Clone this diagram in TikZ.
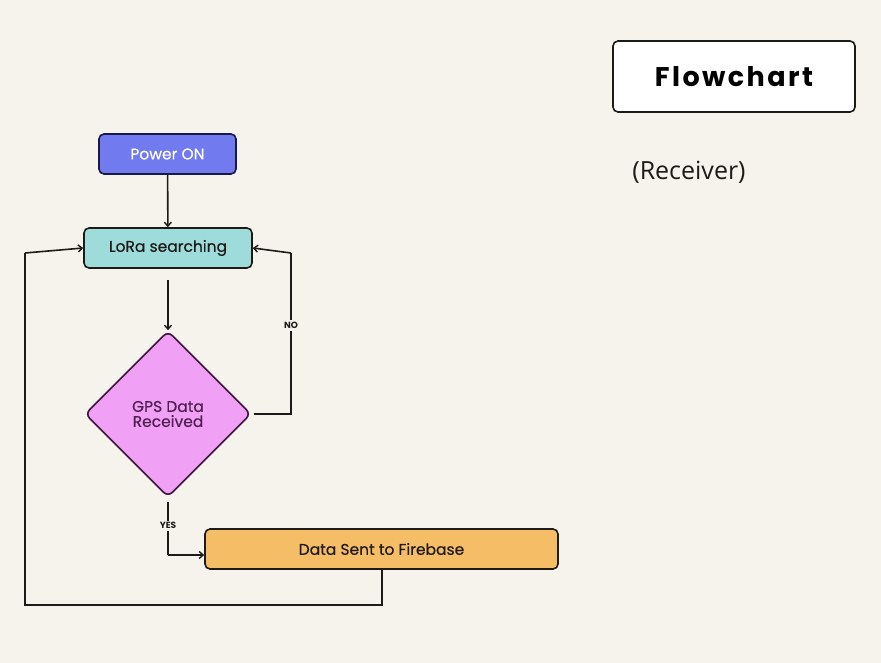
\documentclass[tikz,border=0pt]{standalone}
\usepackage{fontspec}
\setmainfont{Poppins}
\newfontfamily\recfont{Open Sans}
\newfontfamily\boxfont[FakeBold=0.4]{Poppins}
\usepackage{tikz}
\usetikzlibrary{
	arrows.meta,
	shapes.geometric
}
\definecolor{paper}{RGB}{246,243,236}
\definecolor{powerblue}{RGB}{113,122,238}
\definecolor{lorateal}{RGB}{158,220,220}
\definecolor{gpsviolet}{RGB}{240,160,245}
\definecolor{dataorange}{RGB}{245,190,102}
\definecolor{inkline}{RGB}{30,26,24}
\tikzset{
	procbox/.style={draw=inkline, line width=1.6pt, rounded corners=5pt, minimum height=40pt, font=\boxfont\fontsize{15.5}{18}\selectfont, text=inkline},
	decision/.style={diamond, draw={rgb,255:red,60;green,20;blue,60}, line width=1.6pt, rounded corners=6pt, fill=gpsviolet, minimum width=166pt, minimum height=166pt, inner sep=0pt, align=center, font=\boxfont\fontsize{15.5}{16}\selectfont, text={rgb,255:red,80;green,30;blue,80}},
	flowline/.style={draw=inkline, line width=1.6pt},
	flowarrow/.style={flowline, -{Straight Barb[length=4pt,width=7pt,line width=1.4pt]}},
	tag/.style={fill=paper, inner sep=2pt, font=\fontsize{9}{10}\bfseries\selectfont, text=inkline}
}
\begin{document}
\begin{tikzpicture}[x=1pt, y=-1pt]
	\fill[paper] (0,0) rectangle (881,663);
	\useasboundingbox (0,0) rectangle (881,663);
	\node[draw=inkline, line width=1.6pt, rounded corners=5pt, fill=white, minimum width=242pt, minimum height=71pt, font=\fontsize{27}{30}\bfseries\addfontfeature{LetterSpace=9}\selectfont] (title) at (734,76.5) {Flowchart};
	\node[font=\recfont\fontsize{25}{28}\selectfont, text=inkline] (receiver) at (689,172) {(Receiver)};
	\node[procbox, fill=powerblue, minimum width=137pt, text=white, draw={rgb,255:red,25;green,25;blue,70}] (power) at (167.5,154) {Power ON};
	\node[procbox, fill=lorateal, minimum width=168pt] (lora) at (168,248) {LoRa searching};
	\node[decision] (gps) at (168,414) {GPS Data\\[-1pt]Received};
	\node[procbox, fill=dataorange, minimum width=353pt] (data) at (381.5,549) {Data Sent to Firebase};
	\coordinate (noturn) at (291,414);
	\coordinate (notop) at (291,253);
	\coordinate (yesturn) at (168,555);
	\coordinate (loopdown) at (382,605);
	\coordinate (loopleft) at (25,605);
	\coordinate (looptop) at (25,253);
	\draw[flowarrow] (power) -- (lora);
	\draw[flowarrow] ([yshift=-11pt]lora.south) -- (gps.north);
	\draw[flowline] ([xshift=2pt]gps.east) -- (noturn) -- node[tag, pos=0.55] {NO} (notop);
	\draw[flowarrow] (notop) -- (lora.east);
	\draw[flowline] ([yshift=-4pt]gps.south) -- node[tag, pos=0.45] {YES} (yesturn);
	\draw[flowarrow] (yesturn) -- (data.west |- yesturn);
	\draw[flowline] (data.south -| loopdown) -- (loopdown) -- (loopleft) -- (looptop);
	\draw[flowarrow] (looptop) -- (lora.west);
\end{tikzpicture}
\end{document}
